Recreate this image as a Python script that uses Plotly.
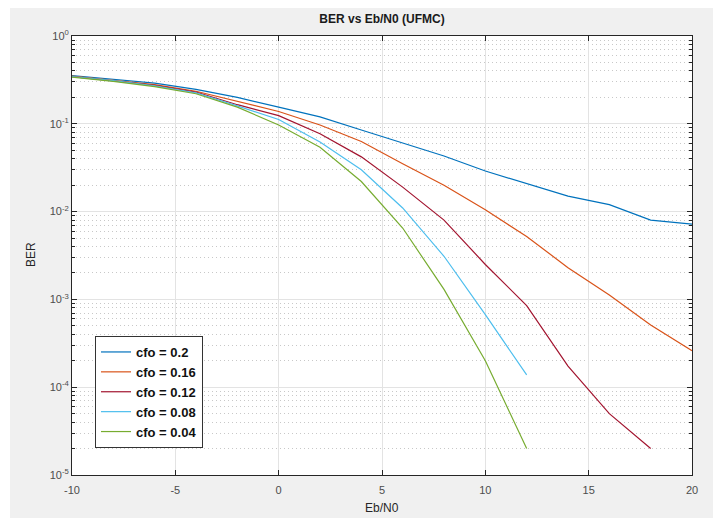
import plotly.graph_objects as go

ebn0 = [-10, -8, -6, -4, -2, 0, 2, 4, 6, 8, 10, 12, 14, 16, 18, 20]
ber_cfo_020 = [0.355, 0.32, 0.29, 0.247, 0.2, 0.155, 0.12, 0.085, 0.06, 0.043, 0.029, 0.021, 0.015, 0.012, 0.008, 0.0072]
ber_cfo_016 = [0.35, 0.315, 0.28, 0.235, 0.18, 0.138, 0.097, 0.063, 0.035, 0.020, 0.0105, 0.0052, 0.0023, 0.00112, 0.00051, 0.00026]
ber_cfo_012 = [0.345, 0.31, 0.275, 0.23, 0.165, 0.124, 0.077, 0.042, 0.019, 0.008, 0.0025, 0.00085, 0.000174, 0.00005, 0.00002]
ber_cfo_008 = [0.345, 0.31, 0.27, 0.225, 0.16, 0.112, 0.062, 0.030, 0.011, 0.0031, 0.00067, 0.000138]
ber_cfo_004 = [0.34, 0.305, 0.265, 0.22, 0.155, 0.097, 0.054, 0.022, 0.0065, 0.0013, 0.0002, 0.00002]

series = [
    ("cfo = 0.2", ber_cfo_020, "#0072BD"),
    ("cfo = 0.16", ber_cfo_016, "#D95319"),
    ("cfo = 0.12", ber_cfo_012, "#A2142F"),
    ("cfo = 0.08", ber_cfo_008, "#4DBEEE"),
    ("cfo = 0.04", ber_cfo_004, "#77AC30"),
]

x_ticks = [-10, -5, 0, 5, 10, 15, 20]
y_exps = [0, -1, -2, -3, -4, -5]

fig = go.Figure()
for name, vals, color in series:
    fig.add_trace(go.Scatter(x=ebn0[:len(vals)], y=vals, mode="lines", name=name,
                             line=dict(color=color, width=1.2)))

# page has an 8px body margin: figure occupies page pixels (8..721, 8..520)
OFF = 8
W, H = 713, 512
L, T = 72 - OFF, 36 - OFF
R = W - (692 - OFF)
B = H - (475 - OFF)
pw, ph = W - L - R, H - T - B

def px_x(page_px):
    return (page_px - OFF - L) / pw

def px_y(page_py):
    return (H - B - (page_py - OFF)) / ph

minor_vals = [k * 10 ** e for e in range(-5, 0) for k in range(2, 10)]

fig.update_layout(
    width=W, height=H,
    margin=dict(l=L, r=R, t=T, b=B),
    paper_bgcolor="white",
    plot_bgcolor="white",
    font=dict(family="Liberation Sans, Arial, sans-serif", size=11, color="#404040"),
    title=dict(text="<b>BER vs Eb/N0 (UFMC)</b>", x=px_x(382), xref="paper",
               y=1 - (19 - OFF) / H, yref="container", xanchor="center", yanchor="middle",
               font=dict(size=12, color="#1a1a1a")),
    showlegend=True,
    legend=dict(x=px_x(95), y=px_y(336), xanchor="left", yanchor="top",
                bgcolor="white", bordercolor="#333333", borderwidth=1,
                font=dict(size=13, color="#111111", weight="bold",
                          family="Liberation Sans, Arial, sans-serif"),
                tracegroupgap=0, itemwidth=30),
    xaxis=dict(range=[-10, 20], tickvals=x_ticks, ticktext=[str(v) for v in x_ticks],
               showline=True, linecolor="#262626", linewidth=1, mirror="ticks",
               ticks="inside", ticklen=5, tickcolor="#262626",
               showgrid=True, gridcolor="#e3e3e3", gridwidth=1, zeroline=False,
               ticklabelstandoff=5,
               tickfont=dict(size=11, color="#4d4d4d")),
    yaxis=dict(type="log", range=[-5, 0],
               tickvals=[10 ** e for e in y_exps],
               ticktext=["10<sup>%d</sup>" % e for e in y_exps],
               showline=True, linecolor="#262626", linewidth=1, mirror="ticks",
               ticks="inside", ticklen=5, tickcolor="#262626",
               showgrid=True, gridcolor="#e3e3e3", gridwidth=1, zeroline=False,
               tickfont=dict(size=11, color="#4d4d4d"),
               minor=dict(tickmode="array", tickvals=minor_vals, ticks="inside", ticklen=3,
                          tickcolor="#262626", showgrid=True, gridcolor="#c8c8c8",
                          griddash="1px,3px", gridwidth=1)),
    shapes=[
        dict(type="rect", xref="paper", yref="paper", layer="below",
             x0=px_x(10), x1=px_x(713), y0=px_y(518), y1=px_y(7),
             fillcolor="#f0f0f0", line=dict(width=0)),
        dict(type="rect", xref="paper", yref="paper", layer="below",
             x0=0, x1=1, y0=0, y1=1, fillcolor="white", line=dict(width=0)),
    ],
    annotations=[
        dict(text="Eb/N0", xref="paper", yref="paper", x=px_x(382), y=px_y(508),
             xanchor="center", yanchor="middle", showarrow=False,
             font=dict(size=12, color="#262626")),
        dict(text="BER", xref="paper", yref="paper", x=px_x(31), y=px_y(255),
             xanchor="center", yanchor="middle", showarrow=False, textangle=-90,
             font=dict(size=12, color="#262626")),
    ],
)

fig.write_html("out.html")
